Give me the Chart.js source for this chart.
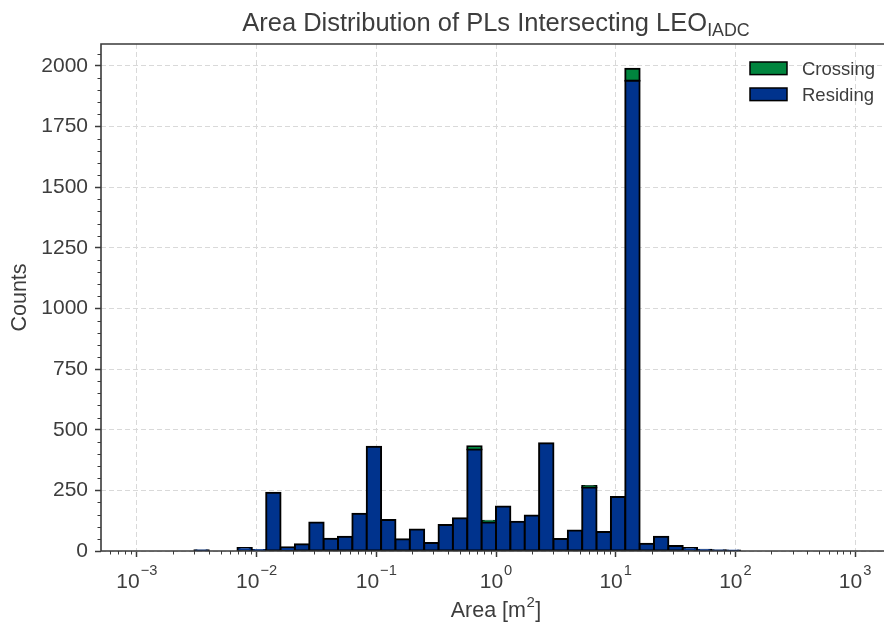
<!DOCTYPE html>
<html><head><meta charset="utf-8">
<script src="https://cdn.jsdelivr.net/npm/chart.js@4.4.1/dist/chart.umd.min.js"></script>
<style>
html,body{margin:0;padding:0;background:#fff;overflow:hidden;width:884px;height:627px;}
#wrap{width:884px;height:627px;overflow:hidden;position:relative;background:#fff;}
canvas{display:block;}
</style></head><body>
<div id="wrap"><canvas id="c" width="891" height="627"></canvas></div>
<script>
// ---- data ----
// bin centres, as powers of ten (50 log-spaced bins from 1e-3 to 1e3)
const binCenterExponents = [
  -2.94, -2.82, -2.70, -2.58, -2.46, -2.34, -2.22, -2.10, -1.98, -1.86,
  -1.74, -1.62, -1.50, -1.38, -1.26, -1.14, -1.02, -0.90, -0.78, -0.66,
  -0.54, -0.42, -0.30, -0.18, -0.06,  0.06,  0.18,  0.30,  0.42,  0.54,
   0.66,  0.78,  0.90,  1.02,  1.14,  1.26,  1.38,  1.50,  1.62,  1.74,
   1.86,  1.98,  2.10,  2.22,  2.34,  2.46,  2.58,  2.70,  2.82,  2.94
];
const residingCounts = [
  0, 0, 0, 0, 3, 0, 0, 12, 4, 240,
  15, 28, 118, 51, 59, 154, 430, 128, 48, 89,
  33, 107, 135, 418, 118, 183, 121, 146, 444, 49,
  84, 262, 78, 223, 1939, 30, 59, 21, 12, 5,
  3, 2, 0, 0, 0, 0, 0, 0, 0, 0
];
const crossingCounts = [
  0, 0, 0, 0, 0, 0, 0, 0, 0, 0,
  0, 0, 0, 0, 0, 0, 0, 0, 0, 0,
  0, 0, 0, 14, 7, 0, 0, 0, 0, 0,
  0, 6, 0, 0, 49, 0, 0, 0, 0, 0,
  0, 0, 0, 0, 0, 0, 0, 0, 0, 0
];
const seriesNames = ['Residing', 'Crossing'];
const xTickExponents = [-3, -2, -1, 0, 1, 2, 3];
const yTickValues = [0, 250, 500, 750, 1000, 1250, 1500, 1750, 2000];
const titleMain = 'Area Distribution of PLs Intersecting LEO';
const titleSub = 'IADC';
const xLabelMain = 'Area [m';
const xLabelSup = '2';
const xLabelEnd = ']';
const yLabel = 'Counts';

// ---- styles ----
const FONT = "'Liberation Sans', Arial, sans-serif";
const TEXT = '#3d3d3d';
const AX = '#3a3a3a';
const GRID = '#d9d9d9';
const BLUE = '#00338d';
const GREEN = '#00853e';
const TICK_PX = 21, SUP_PX = 14.7, LABEL_PX = 21.5, TITLE_PX = 25.5, LEG_PX = 18.5;

const barStyle = (color) => ({
  backgroundColor: color, borderColor: '#000000', borderWidth: 2,
  borderSkipped: false, inflateAmount: 1,
  barPercentage: 1, categoryPercentage: 1, stack: 'hist'
});

const overlay = {
  id: 'overlay',
  afterDraw(chart) {
    const {ctx, chartArea: a, scales: {x, y}} = chart;
    ctx.save();
    // minor ticks
    ctx.strokeStyle = AX; ctx.lineWidth = 1;
    ctx.beginPath();
    for (let n = -4; n <= 3; n++) {
      for (let k = 2; k <= 9; k++) {
        const v = k * Math.pow(10, n);
        if (v < x.min || v > x.max) continue;
        const px = Math.round(x.getPixelForValue(v)) + 0.5;
        ctx.moveTo(px, a.bottom); ctx.lineTo(px, a.bottom + 3.5);
      }
    }
    for (let v = 50; v < y.max; v += 50) {
      if (yTickValues.includes(v)) continue;
      const py = Math.round(y.getPixelForValue(v)) + 0.5;
      ctx.moveTo(a.left, py); ctx.lineTo(a.left - 3.5, py);
    }
    ctx.stroke();
    // spines
    ctx.lineWidth = 1.6; ctx.strokeStyle = AX;
    ctx.beginPath();
    ctx.moveTo(a.left, a.bottom); ctx.lineTo(a.left, a.top);
    ctx.lineTo(a.right, a.top); ctx.lineTo(a.right, a.bottom); ctx.closePath();
    ctx.stroke();
    // x tick labels 10^n
    ctx.fillStyle = TEXT; ctx.textBaseline = 'alphabetic'; ctx.textAlign = 'left';
    for (const e of xTickExponents) {
      const px = x.getPixelForValue(Math.pow(10, e));
      const base = '10';
      const sup = e < 0 ? '\u2212' + Math.abs(e) : String(e);
      ctx.font = `${TICK_PX}px ${FONT}`; const w1 = ctx.measureText(base).width;
      ctx.font = `${SUP_PX}px ${FONT}`; const w2 = ctx.measureText(sup).width;
      const sx = px - (w1 + w2 + 1) / 2;
      ctx.font = `${TICK_PX}px ${FONT}`; ctx.fillText(base, sx, a.bottom + 37);
      ctx.font = `${SUP_PX}px ${FONT}`; ctx.fillText(sup, sx + w1 + 1, a.bottom + 24);
    }
    // x axis label
    const cx = (a.left + a.right) / 2;
    ctx.font = `${LABEL_PX}px ${FONT}`;
    const l1 = ctx.measureText(xLabelMain).width, l3 = ctx.measureText(xLabelEnd).width;
    ctx.font = `${LABEL_PX * 0.7}px ${FONT}`;
    const l2 = ctx.measureText(xLabelSup).width;
    const lx = cx - (l1 + l2 + l3 + 1) / 2;
    ctx.font = `${LABEL_PX}px ${FONT}`; ctx.fillText(xLabelMain, lx, 617);
    ctx.font = `${LABEL_PX * 0.7}px ${FONT}`; ctx.fillText(xLabelSup, lx + l1 + 0.5, 607);
    ctx.font = `${LABEL_PX}px ${FONT}`; ctx.fillText(xLabelEnd, lx + l1 + l2 + 1, 617);
    // title with subscript
    ctx.font = `${TITLE_PX}px ${FONT}`; const t1 = ctx.measureText(titleMain).width;
    ctx.font = `${TITLE_PX * 0.7}px ${FONT}`; const t2 = ctx.measureText(titleSub).width;
    const tx = cx - (t1 + t2) / 2;
    ctx.font = `${TITLE_PX}px ${FONT}`; ctx.fillText(titleMain, tx, 31);
    ctx.font = `${TITLE_PX * 0.7}px ${FONT}`; ctx.fillText(titleSub, tx + t1, 35.5);
    // legend (top series first)
    const ds = chart.data.datasets.slice().reverse();
    const bx = a.right - 141;
    ds.forEach((d, i) => {
      const by = a.top + 18 + i * 26;
      ctx.fillStyle = d.backgroundColor; ctx.fillRect(bx, by, 37, 12.6);
      ctx.strokeStyle = '#000'; ctx.lineWidth = 1.5; ctx.strokeRect(bx, by, 37, 12.6);
      ctx.fillStyle = TEXT; ctx.font = `${LEG_PX}px ${FONT}`;
      ctx.fillText(d.label, bx + 52, by + 6.3 + 6.6);
    });
    ctx.restore();
  }
};

new Chart(document.getElementById('c'), {
  type: 'bar',
  data: {
    labels: binCenterExponents.map(e => Math.pow(10, e)),
    datasets: [
      Object.assign({label: seriesNames[0], data: residingCounts.map(v => v || null)}, barStyle(BLUE)),
      Object.assign({label: seriesNames[1], data: crossingCounts.map(v => v || null)}, barStyle(GREEN))
    ]
  },
  options: {
    responsive: false, animation: false, devicePixelRatio: 1,
    layout: {padding: {left: 0, right: 0, top: 44, bottom: 0}},
    plugins: {legend: {display: false}, tooltip: {enabled: false}, title: {display: false}},
    scales: {
      x: {
        type: 'logarithmic', stacked: true, offset: false,
        min: Math.pow(10, -3.3), max: Math.pow(10, 3.3),
        afterBuildTicks: s => { s.ticks = xTickExponents.map(e => ({value: Math.pow(10, e), major: true})); },
        afterFit: s => { s.height = 76; },
        grid: {offset: false, color: GRID, lineWidth: 1, drawTicks: true, tickLength: 6, tickColor: AX, tickWidth: 1.5},
        border: {display: false, dash: [5, 3]},
        ticks: {autoSkip: false, maxRotation: 0, callback: () => '', font: {size: TICK_PX, family: FONT}}
      },
      y: {
        type: 'linear', stacked: true, min: 0, max: 2090,
        afterBuildTicks: s => { s.ticks = yTickValues.map(v => ({value: v})); },
        afterFit: s => { s.width = 101; },
        grid: {offset: false, color: GRID, lineWidth: 1, drawTicks: true, tickLength: 6, tickColor: AX, tickWidth: 1.5},
        border: {display: false, dash: [5, 3]},
        ticks: {padding: 7, color: TEXT, font: {size: TICK_PX, family: FONT}, callback: v => String(v)},
        title: {display: true, text: yLabel, color: TEXT, font: {size: LABEL_PX, family: FONT}, padding: {top: 7, bottom: 0}}
      }
    }
  },
  plugins: [overlay]
});
</script>
</body></html>
